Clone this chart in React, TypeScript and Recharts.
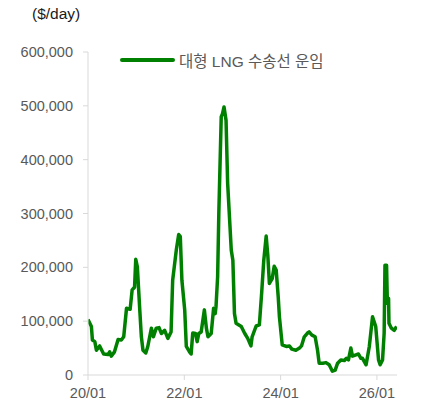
import { LineChart, Line, XAxis, YAxis } from "recharts";

// months since 2020-01 (weekly-ish samples)
const months = [
  0, 0.85, 1.1, 1.7, 2.1, 2.9, 3.3, 3.9, 5.0, 5.4, 5.8, 6.6, 7.5, 8.3, 8.9, 9.6, 10.5, 11.0, 11.6, 11.9,
  12.3, 12.9, 13.3, 13.7, 14.4, 14.9, 15.8, 16.3, 17.0, 17.7, 18.3, 19.1, 19.9, 20.7, 21.1, 22.0, 22.6, 23.0,
  23.4, 24.1, 24.5, 25.3, 25.7, 26.1, 26.8, 27.2, 27.6, 28.2, 29.0, 29.5, 29.9, 30.7, 31.3, 31.7, 31.9, 32.3,
  32.6, 33.2, 33.5, 33.9, 34.4, 34.8, 35.7, 36.1, 36.5, 36.9, 38.2, 39.0, 39.8, 40.6, 40.9, 41.9, 42.7, 43.3,
  43.8, 44.4, 44.8, 45.2, 45.9, 46.4, 46.9, 47.4, 47.7, 48.4, 49.4, 50.2, 50.8, 51.8, 52.7, 53.2, 53.9, 54.7,
  55.1, 55.8, 56.6, 57.2, 57.6, 58.5, 59.3, 60.1, 60.9, 61.6, 62.2, 63.0, 63.9, 64.4, 64.9, 65.5, 65.9, 66.6,
  67.4, 68.0, 68.4, 69.3, 70.1, 70.9, 71.7, 72.4, 72.8, 73.4, 73.8, 74.0, 74.4, 74.6, 74.9, 75.0, 75.6, 76.3,
  76.9,
];

const rates = [
  103000, 90000, 65000, 62000, 46000, 54000, 48000, 39000, 38000, 43000, 35000, 43000, 66000, 65000, 71000,
  124000, 122000, 158000, 163000, 215000, 201000, 121000, 71000, 46000, 41000, 53000, 87000, 71000, 87000,
  88000, 77000, 83000, 68000, 80000, 176000, 232000, 261000, 257000, 176000, 121000, 53000, 43000, 39000,
  78000, 77000, 62000, 77000, 80000, 121000, 87000, 71000, 77000, 124000, 114000, 127000, 182000, 300000,
  480000, 485000, 498000, 473000, 356000, 232000, 213000, 114000, 96000, 90000, 78000, 68000, 54000, 71000,
  91000, 93000, 155000, 213000, 258000, 223000, 170000, 179000, 202000, 195000, 145000, 108000, 56000, 53000,
  54000, 48000, 46000, 50000, 54000, 71000, 78000, 80000, 74000, 71000, 46000, 22000, 22000, 23000, 19000,
  7000, 9000, 22000, 28000, 27000, 31000, 28000, 50000, 35000, 37000, 39000, 31000, 31000, 19000, 53000,
  108000, 90000, 28000, 19000, 28000, 78000, 204000, 204000, 133000, 142000, 96000, 87000, 83000, 90000,
];

const xTicks = [0, 24, 48, 72];
const xTickLabels = ["20/01", "22/01", "24/01", "26/01"];
const yTicks = [0, 100000, 200000, 300000, 400000, 500000, 600000];

const seriesName = "대형 LNG 수송선 운임";
const GREEN = "#008000";
const AXIS = "#d9d9d9";
const LABEL = "#595959";
const FONT = '"Liberation Sans", Arial, "Noto Sans CJK KR", sans-serif';

const data = months.map((m, i) => ({ m, v: rates[i] }));

export default function App() {
  return (
    <div style={{ position: "relative", width: 428, height: 406, margin: -8, background: "#fff" }}>
      <div style={{ position: "absolute", left: 32, top: 5, fontFamily: FONT, fontSize: 15.5, color: "#1a1a1a" }}>($/day)</div>
      {/* legend drawn as an overlay so it does not eat plot height */}
      <div style={{ position: "absolute", left: 120, top: 50, height: 20, display: "flex", alignItems: "center", fontFamily: FONT, zIndex: 1 }}>
        <span style={{ display: "inline-block", width: 55, height: 4, background: GREEN, borderRadius: 2, marginRight: 4 }} />
        <span style={{ fontSize: 15.5, color: LABEL, whiteSpace: "nowrap" }}>{seriesName}</span>
      </div>
      <LineChart width={428} height={406} data={data} margin={{ top: 52, right: 31, bottom: 0, left: 0 }}>
        <XAxis
          type="number"
          dataKey="m"
          domain={[0, 77]}
          ticks={xTicks}
          tickFormatter={(v: number) => xTickLabels[xTicks.indexOf(v)] ?? ""}
          height={31}
          tickSize={5}
          tickMargin={8}
          axisLine={{ stroke: AXIS }}
          tickLine={{ stroke: AXIS }}
          tick={{ fill: LABEL, fontSize: 14.5, fontFamily: FONT }}
          allowDataOverflow
        />
        <YAxis
          type="number"
          domain={[0, 600000]}
          ticks={yTicks}
          tickFormatter={(v: number) => v.toLocaleString("en-US")}
          width={88}
          tickSize={5}
          tickMargin={10}
          axisLine={{ stroke: AXIS }}
          tickLine={{ stroke: AXIS }}
          tick={{ fill: LABEL, fontSize: 14.5, fontFamily: FONT }}
        />
        <Line
          type="linear"
          dataKey="v"
          name={seriesName}
          stroke={GREEN}
          strokeWidth={3.5}
          strokeLinejoin="round"
          dot={false}
          activeDot={false}
          isAnimationActive={false}
        />
      </LineChart>
    </div>
  );
}
